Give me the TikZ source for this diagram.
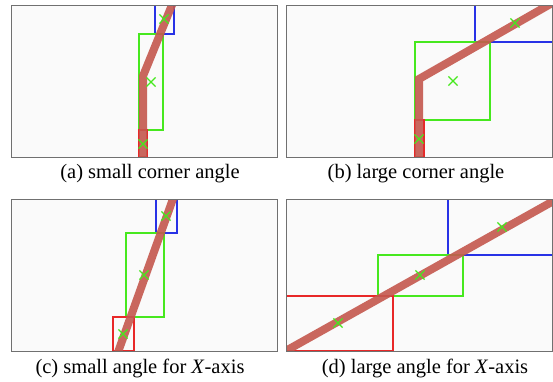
\documentclass[tikz,border=0pt]{standalone}
\usepackage{fontspec}
\setmainfont{Liberation Serif}
\usetikzlibrary{positioning,shapes.misc}
\definecolor{panelgray}{RGB}{112,112,112}
\definecolor{panelfill}{RGB}{250,250,250}
\definecolor{trackred}{RGB}{196,88,78}
\definecolor{boxgreen}{RGB}{70,232,30}
\definecolor{boxblue}{RGB}{40,50,230}
\definecolor{boxred}{RGB}{232,40,40}

\begin{document}
\begin{tikzpicture}[x=1pt,y=-1pt,
    panel/.style={draw=panelgray, line width=1pt},
    greenbox/.style={draw=boxgreen, line width=1.2pt},
    bluebox/.style={draw=boxblue, line width=1.2pt},
    redbox/.style={draw=boxred, line width=1.2pt},
    track/.style={draw=trackred, line width=8pt, opacity=.9},
    centremark/.style={cross out, draw=boxgreen, line width=1.2pt, minimum size=8pt, inner sep=0pt},
    capt/.style={font=\fontsize{20.5}{22}\selectfont, anchor=base}]
\useasboundingbox (0,0) rectangle (553,381);

% (a) small corner angle
\begin{scope}
  \clip (11,5) rectangle (277,157);
  \fill[panelfill] (11,5) rectangle (277,157);
  \draw[bluebox] (155,5) rectangle (174,34);
  \draw[greenbox] (139,34) rectangle (163,130);
  \draw[redbox] (139,130) rectangle (147,157);
  \draw[track] (143,162) -- (143,76) -- (174,0);
\end{scope}
\draw[panel] (11,5) rectangle (277,157);
\node[centremark] (a1) at (164,19) {};
\node[centremark] (a2) at (151,82) {};
\node[centremark] (a3) at (143,144) {};
\node[capt] (capa) at (150,178) {(a) small corner angle};

% (b) large corner angle
\begin{scope}
  \clip (286,5) rectangle (552,157);
  \fill[panelfill] (286,5) rectangle (552,157);
  \draw[bluebox] (475,5) rectangle (556,42);
  \draw[greenbox] (415,42) rectangle (490,120);
  \draw[redbox] (415,120) rectangle (424,157);
  \draw[track] (419,162) -- (419,79) -- (561,-2);
\end{scope}
\draw[panel] (286,5) rectangle (552,157);
\node[centremark] (b1) at (515,23) {};
\node[centremark] (b2) at (453,81) {};
\node[centremark] (b3) at (419,139) {};
\node[capt] (capb) at (416,178) {(b) large corner angle};

% (c) small angle for X-axis
\begin{scope}
  \clip (11,199) rectangle (277,351);
  \fill[panelfill] (11,199) rectangle (277,351);
  \draw[bluebox] (156,199) rectangle (177,233);
  \draw[greenbox] (126,233) rectangle (164,317);
  \draw[redbox] (113,317) rectangle (134,351);
  \draw[track] (117,355) -- (174,196);
\end{scope}
\draw[panel] (11,199) rectangle (277,351);
\node[centremark] (c1) at (166,216) {};
\node[centremark] (c2) at (144,275) {};
\node[centremark] (c3) at (123,334) {};
\node[capt] (capc) at (140,373) {(c) small angle for \textit{X}-axis};

% (d) large angle for X-axis
\begin{scope}
  \clip (286,199) rectangle (552,351);
  \fill[panelfill] (286,199) rectangle (552,351);
  \draw[bluebox] (448,199) rectangle (556,255);
  \draw[greenbox] (378,255) rectangle (463,296);
  \draw[redbox] (282,296) rectangle (393,351);
  \draw[track] (282,353) -- (557,199);
\end{scope}
\draw[panel] (286,199) rectangle (552,351);
\node[centremark] (d1) at (502,227) {};
\node[centremark] (d2) at (420,275) {};
\node[centremark] (d3) at (338,323) {};
\node[capt] (capd) at (425,373) {(d) large angle for \textit{X}-axis};
\end{tikzpicture}
\end{document}
